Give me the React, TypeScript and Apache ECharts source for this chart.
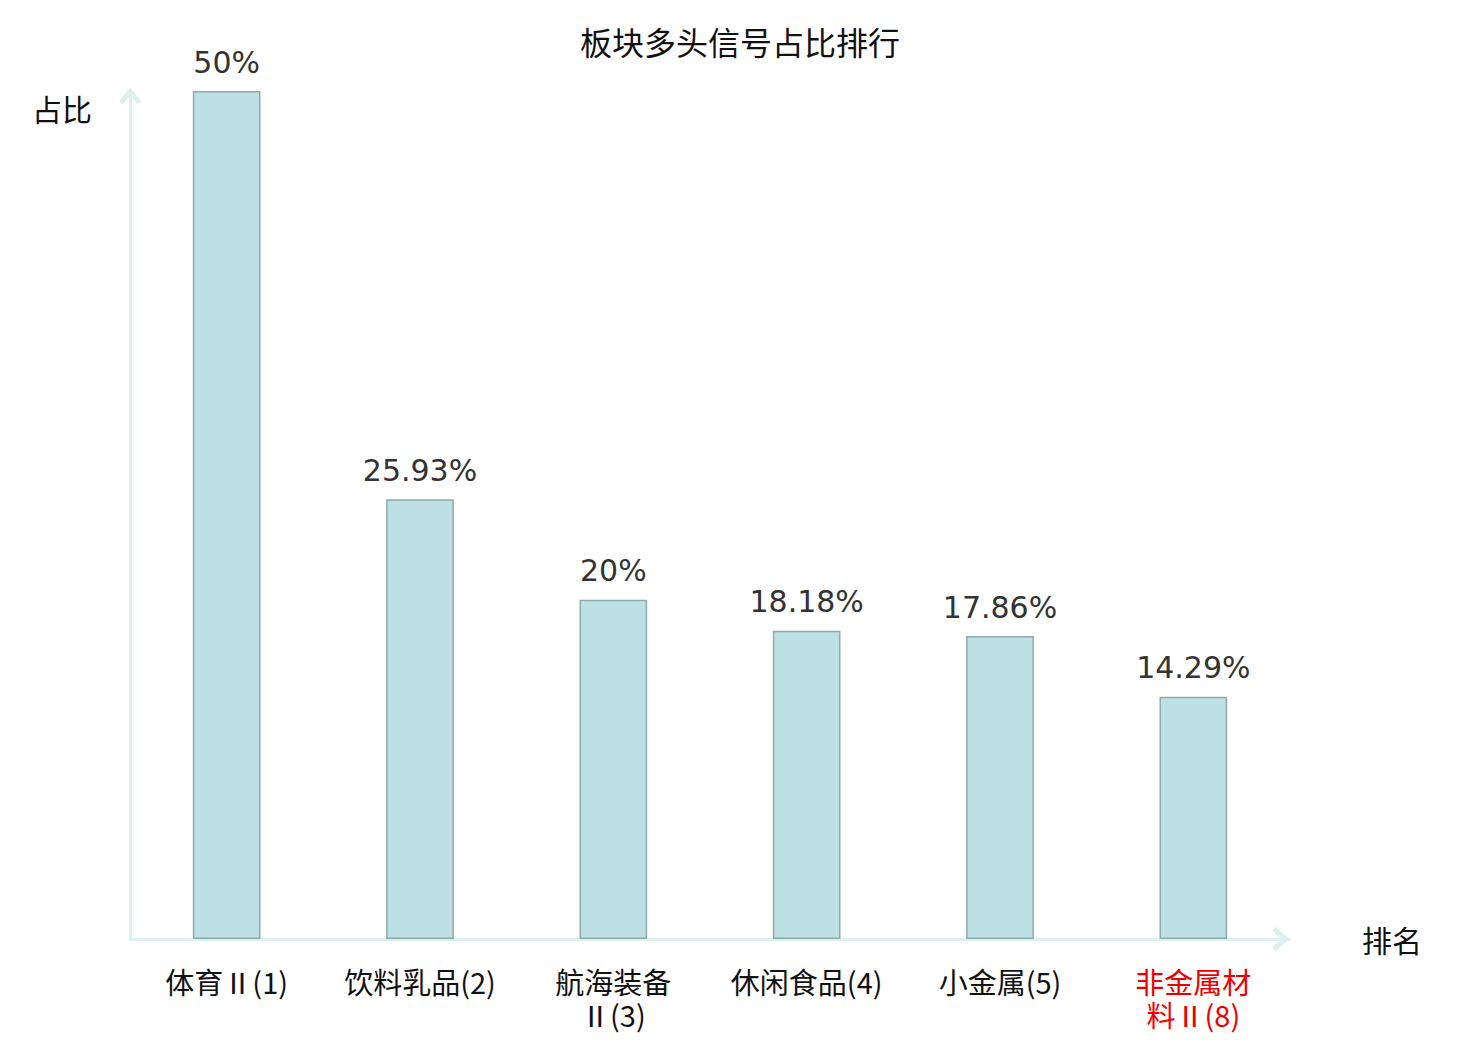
import React, { useEffect, useRef } from "react";
import * as echarts from "echarts";

const categories = ["体育Ⅱ(1)", "饮料乳品(2)", "航海装备Ⅱ(3)", "休闲食品(4)", "小金属(5)", "非金属材料Ⅱ(8)"];
const values = [50, 25.93, 20, 18.18, 17.86, 14.29];
const highlighted = ["非金属材料Ⅱ(8)"];

const CHEVRON = "path://M10,0 L20,12 L16.6,14.8 L10,7 L3.4,14.8 L0,12 Z";
const CJK = "Noto Sans CJK SC";

export default function App() {
  const ref = useRef<HTMLDivElement>(null);
  useEffect(() => {
    const chart = echarts.init(ref.current!, undefined, { renderer: "svg" });
    chart.setOption({
      animation: false,
      title: {
        text: "板块多头信号占比排行",
        left: "center",
        top: 12,
        textStyle: { fontSize: 32, fontWeight: "normal", color: "#111", fontFamily: CJK },
      },
      grid: { left: 122, right: 182, top: 83, bottom: 101, containLabel: false },
      xAxis: {
        type: "category",
        data: categories.map((c) =>
          highlighted.includes(c) ? { value: c, textStyle: { color: "#ee0000" } } : c
        ),
        name: "排名",
        nameGap: 72,
        nameTextStyle: { fontSize: 30, color: "#111", fontFamily: CJK, verticalAlign: "middle", align: "left" },
        axisLine: {
          show: true,
          symbol: ["none", CHEVRON],
          symbolSize: [24, 20],
          symbolOffset: [0, -9],
          lineStyle: { color: "#dcf1ee", width: 3 },
        },
        axisTick: { show: false },
        axisLabel: {
          interval: 0,
          margin: 25,
          fontSize: 29,
          color: "#111",
          fontFamily: CJK,
          lineHeight: 33,
          formatter: (v: string) => (v.length > 7 ? v.slice(0, 4) + "\n" + v.slice(4) : v),
        },
      },
      yAxis: {
        type: "value",
        min: 0,
        max: 50,
        name: "占比",
        nameLocation: "end",
        nameGap: -17,
        nameTextStyle: { fontSize: 30, color: "#111", fontFamily: CJK, align: "right", verticalAlign: "middle", padding: [0, 38, 0, 0] },
        axisLine: {
          show: true,
          symbol: ["none", CHEVRON],
          symbolSize: [22, 19],
          symbolOffset: [0, -5],
          lineStyle: { color: "#dcf1ee", width: 3 },
        },
        axisTick: { show: false },
        axisLabel: { show: false },
        splitLine: { show: false },
      },
      series: [
        {
          type: "bar",
          data: values,
          barWidth: "35%",
          itemStyle: { color: "#bce0e3", borderColor: "#8eaaab", borderWidth: 1.5 },
          label: {
            show: true,
            position: "top",
            distance: 14,
            formatter: (p: any) => p.value + "%",
            fontSize: 30,
            color: "#333",
            fontFamily: "DejaVu Sans",
          },
        },
      ],
    });
    return () => chart.dispose();
  }, []);
  return <div ref={ref} style={{ width: 1464, height: 1032 }} />;
}
